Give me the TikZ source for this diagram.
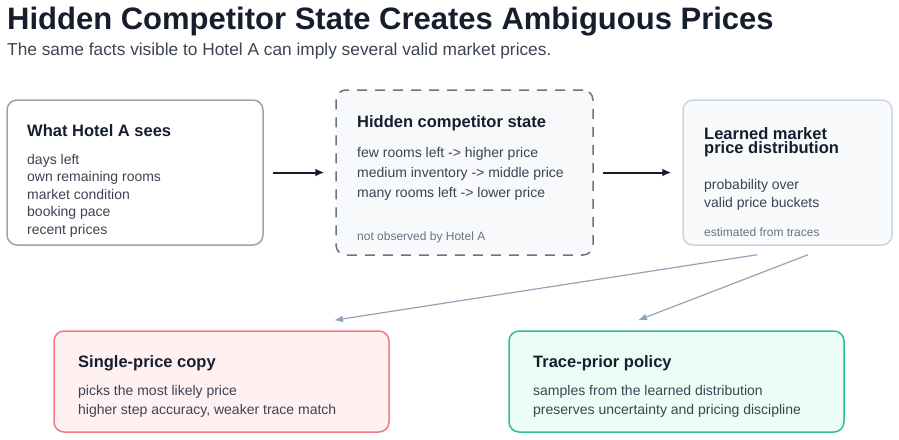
\documentclass[tikz,border=0pt]{standalone}
\usepackage{fontspec}
\setmainfont{Liberation Sans}
\usetikzlibrary{arrows.meta}
\definecolor{ink}{HTML}{161E2E}
\definecolor{bodytext}{HTML}{3B4453}
\definecolor{muted}{HTML}{6B7280}
\definecolor{slate}{HTML}{94A3B8}
\begin{document}
\begin{tikzpicture}[x=1pt,y=-1pt,>={Latex[length=9pt,width=8pt]},line join=round,
  card/.style={rounded corners=10pt,line width=1.5pt,inner sep=0pt},
  head/.style={anchor=base west,inner sep=0pt,text=ink,font=\fontsize{16.5}{14}\selectfont\bfseries,align=left},
  body/.style={anchor=base west,inner sep=0pt,text=bodytext,font=\fontsize{14}{18}\selectfont,align=left},
  note/.style={anchor=base west,inner sep=0pt,text=muted,font=\fontsize{12}{14}\selectfont},
  flow/.style={->,draw=ink,line width=2pt},
  feed/.style={->,draw=slate,line width=1.2pt,>={Latex[length=9pt,width=7pt]}}]
\useasboundingbox (0,0) rectangle (899,439);
%%
  % Title
  \node[anchor=base west,inner sep=0pt,text=ink,font=\fontsize{31}{33}\selectfont\bfseries] (title) at (7,29) {Hidden Competitor State Creates Ambiguous Prices};
  \node[anchor=base west,inner sep=0pt,text=bodytext,font=\fontsize{17.3}{19}\selectfont] (subtitle) at (7,55) {The same facts visible to Hotel A can imply several valid market prices.};
  % Node: seen
\begin{scope}
  \definecolor{strokecol}{HTML}{9CA3AF}
  \node[card,draw=strokecol,fill=white,minimum width=256pt,minimum height=145pt] (seen) at (135,172.5) {};
  \node[head] (seenhead) at (27,136) {What Hotel A sees};
  % multi-line nodes sit on their last baseline
  \node[body,font=\fontsize{14}{17.5}\selectfont] (seenbody) at (27,234) {days left\\own remaining rooms\\market condition\\booking pace\\recent prices};
\end{scope}
  % Node: hidden
\begin{scope}
  \definecolor{strokecol}{HTML}{6B7280}
  \definecolor{fillcol}{HTML}{F8F9FB}
  \node[card,draw=strokecol,fill=fillcol,dash pattern=on 10pt off 8pt,minimum width=257pt,minimum height=165pt] (hidden) at (464.5,172.5) {};
  \node[head] (hiddenhead) at (357,127) {Hidden competitor state};
  \node[body,font=\fontsize{14}{20}\selectfont] (hiddenbody) at (357,197) {few rooms left -> higher price\\medium inventory -> middle price\\many rooms left -> lower price};
  \node[note] (hiddennote) at (357,240) {not observed by Hotel A};
\end{scope}
  % Node: dist
\begin{scope}
  \definecolor{strokecol}{HTML}{CBD5E1}
  \definecolor{fillcol}{HTML}{F8FAFC}
  \node[card,draw=strokecol,fill=fillcol,minimum width=209pt,minimum height=145pt] (dist) at (787.5,172.5) {};
  \node[head] (disthead) at (704,153) {Learned market\\price distribution};
  \node[body] (distbody) at (704,207) {probability over\\valid price buckets};
  \node[note] (distnote) at (704,236) {estimated from traces};
\end{scope}
  % Node: single
\begin{scope}
  \definecolor{strokecol}{HTML}{F7768A}
  \definecolor{fillcol}{HTML}{FFF0F2}
  \node[card,draw=strokecol,fill=fillcol,minimum width=335pt,minimum height=101pt] (single) at (221.5,381.5) {};
  \node[head] (singlehead) at (78,367) {Single-price copy};
  \node[body,font=\fontsize{14}{19}\selectfont] (singlebody) at (78,414) {picks the most likely price\\higher step accuracy, weaker trace match};
\end{scope}
  % Node: trace
\begin{scope}
  \definecolor{strokecol}{HTML}{2FC08A}
  \definecolor{fillcol}{HTML}{ECFDF5}
  \node[card,draw=strokecol,fill=fillcol,minimum width=335pt,minimum height=101pt] (trace) at (676.5,381.5) {};
  \node[head] (tracehead) at (533,367) {Trace-prior policy};
  \node[body,font=\fontsize{14}{19}\selectfont] (tracebody) at (533,414) {samples from the learned distribution\\preserves uncertainty and pricing discipline};
\end{scope}
  % Edge: seen -> hidden
  \draw[flow,shorten <=9pt,shorten >=11pt] (seen) -- (hidden);
  % Edge: hidden -> dist
  \draw[flow,shorten <=9pt,shorten >=11pt] (hidden) -- (dist);
  % Edge: dist -> single
  \draw[feed] ([xshift=-30.5pt,yshift=-9pt]dist.south) -- ([xshift=112.5pt,yshift=10pt]single.north);
  % Edge: dist -> trace
  \draw[feed] ([xshift=20.5pt,yshift=-9pt]dist.south) -- ([xshift=-38.5pt,yshift=10pt]trace.north);
%
\end{tikzpicture}
\end{document}
